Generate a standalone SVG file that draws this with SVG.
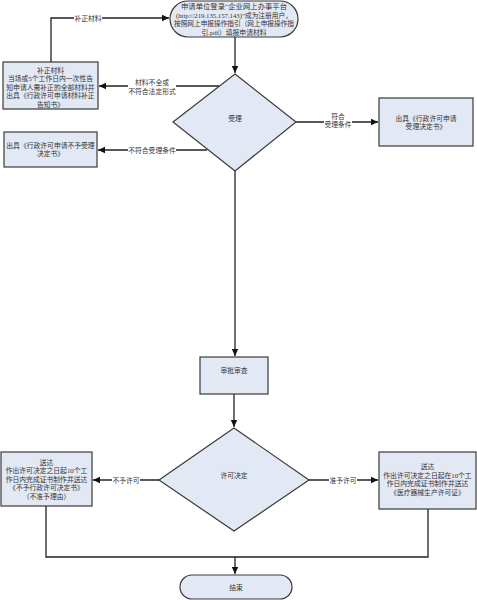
<svg xmlns="http://www.w3.org/2000/svg" width="477" height="600" viewBox="0 0 477 600">
<defs>
<marker id="arr" markerWidth="8" markerHeight="8" refX="7" refY="4" orient="auto" markerUnits="userSpaceOnUse">
<path d="M0,0.8 L7,4 L0,7.2 Z" fill="#111"/>
</marker>
</defs>
<style>
.shape{fill:#e2e8f4;stroke:#3a3a3a;stroke-width:1.2}
text{font-family:"Liberation Serif","Noto Sans CJK SC",serif;font-size:6.8px;fill:#333;text-anchor:middle;dominant-baseline:central}
.ln{fill:none;stroke:#222;stroke-width:1.3}
.lbl{fill:#fff;stroke:none}
</style>
<rect width="477" height="600" fill="#fff"/>
<g id="connectors">
<path class="ln" d="M235,37 V73" marker-end="url(#arr)"/>
<path class="ln" d="M51,62 V18 H169" marker-end="url(#arr)"/>
<path class="ln" d="M219,86 H99" marker-end="url(#arr)"/>
<path class="ln" d="M207,150 H98" marker-end="url(#arr)"/>
<path class="ln" d="M296,122 H378" marker-end="url(#arr)"/>
<path class="ln" d="M235,171 V356" marker-end="url(#arr)"/>
<path class="ln" d="M234,394 V427" marker-end="url(#arr)"/>
<path class="ln" d="M159,480 H93" marker-end="url(#arr)"/>
<path class="ln" d="M309,480 H378" marker-end="url(#arr)"/>
<path class="ln" d="M46,506 V557 H428 V509"/>
<path class="ln" d="M235,557 V574" marker-end="url(#arr)"/>
<rect class="lbl" x="74" y="13" width="28" height="10"/>
<text x="88" y="18">补正材料</text>
<rect class="lbl" x="128" y="78" width="48" height="17"/>
<text x="152" y="82.5">材料不全或</text>
<text x="152" y="91">不符合法定形式</text>
<rect class="lbl" x="128" y="145" width="48" height="10"/>
<text x="152" y="150">不符合受理条件</text>
<rect class="lbl" x="324" y="112" width="28" height="17"/>
<text x="338" y="116.5">符合</text>
<text x="338" y="124.5">受理条件</text>
<rect class="lbl" x="112" y="475" width="28" height="10"/>
<text x="126" y="480">不予许可</text>
<rect class="lbl" x="329" y="475" width="28" height="10"/>
<text x="343" y="480">准予许可</text>
</g>
<g id="start">
<rect class="shape" x="170" y="1" width="128" height="36" rx="18"/>
<text x="234" y="6.5" textLength="106" lengthAdjust="spacingAndGlyphs">申请单位登录“企业网上办事平台</text>
<text x="234" y="15" textLength="116" lengthAdjust="spacingAndGlyphs">(http://219.135.157.143)”成为注册用户，</text>
<text x="234" y="23.5" textLength="120" lengthAdjust="spacingAndGlyphs">按照网上申报操作指引（网上申报操作指</text>
<text x="234" y="32">引.pdf）填报申请材料</text>
</g>
<g id="buzheng">
<rect class="shape" x="3" y="62" width="95" height="47"/>
<text x="50.5" y="70">补正材料</text>
<text x="50.5" y="78.5">当场或5个工作日内一次性告</text>
<text x="50.5" y="87">知申请人需补正的全部材料并</text>
<text x="50.5" y="95.5">出具《行政许可申请材料补正</text>
<text x="50.5" y="104">告知书》</text>
</g>
<g id="shouli">
<path class="shape" d="M235,74 L296,122 L235,171 L173,122 Z"/>
<text x="235" y="118">受理</text>
</g>
<g id="shoulijueding">
<rect class="shape" x="379" y="98" width="94" height="48"/>
<text x="426" y="118">出具《行政许可申请</text>
<text x="426" y="126.5">受理决定书》</text>
</g>
<g id="buyushouli">
<rect class="shape" x="4" y="132" width="93" height="35"/>
<text x="50.5" y="145">出具《行政许可申请不予受理</text>
<text x="50.5" y="153.5">决定书》</text>
</g>
<g id="shenpi">
<rect class="shape" x="200" y="357" width="68" height="37"/>
<text x="234" y="370">审批审查</text>
</g>
<g id="xukejueding">
<path class="shape" d="M234,428 L309,480 L234,531 L159,480 Z"/>
<text x="234" y="475">许可决定</text>
</g>
<g id="buyuxuke">
<rect class="shape" x="1" y="452" width="91" height="54"/>
<text x="46.5" y="462">送达</text>
<text x="46.5" y="470.5">作出许可决定之日起10个工</text>
<text x="46.5" y="479">作日内完成证书制作并送达</text>
<text x="46.5" y="487.5">《不予行政许可决定书》</text>
<text x="46.5" y="496">（不准予理由）</text>
</g>
<g id="zhunyuxuke">
<rect class="shape" x="379" y="452" width="97" height="57"/>
<text x="427.5" y="466.5">送达</text>
<text x="427.5" y="475">作出许可决定之日起在10个工</text>
<text x="427.5" y="483.5">作日内完成证书制作并送达</text>
<text x="427.5" y="492">《医疗器械生产许可证》</text>
</g>
<g id="end">
<rect class="shape" x="180" y="575" width="112" height="24" rx="12"/>
<text x="236" y="587">结束</text>
</g>
</svg>
